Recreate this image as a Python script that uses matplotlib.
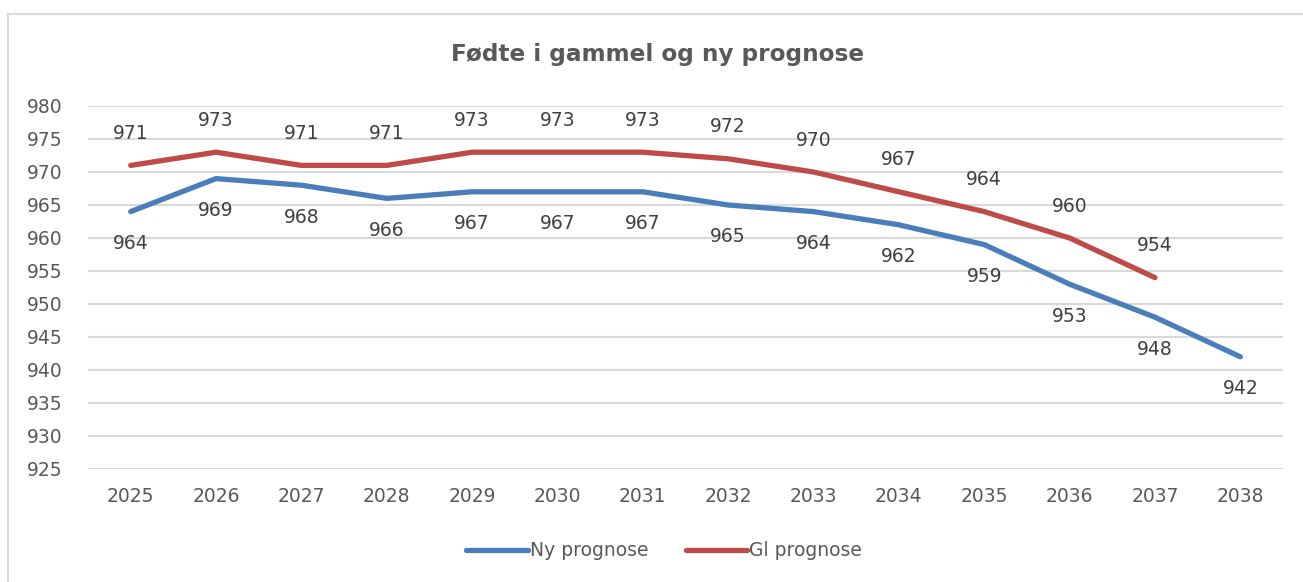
import matplotlib.pyplot as plt
from matplotlib.lines import Line2D

years = ['2025', '2026', '2027', '2028', '2029', '2030', '2031',
         '2032', '2033', '2034', '2035', '2036', '2037', '2038']
ny_prognose = [964, 969, 968, 966, 967, 967, 967, 965, 964, 962, 959, 953, 948, 942]
gl_prognose = [971, 973, 971, 971, 973, 973, 973, 972, 970, 967, 964, 960, 954]

blue = '#4A7EBB'
red = '#BE4B48'
grey = '#595959'

fig = plt.figure(figsize=(13.03, 5.82), dpi=100)
ax = fig.add_axes([88 / 1303, 1 - 469 / 582, (1283 - 88) / 1303, (469 - 106) / 582])

# chart-area frame (only top and left edges visible in the crop)
fig.add_artist(Line2D([8 / 1303, 1], [1 - 14 / 582, 1 - 14 / 582], color='#D9D9D9', lw=1.5))
fig.add_artist(Line2D([8 / 1303, 8 / 1303], [0, 1 - 14 / 582], color='#D9D9D9', lw=1.5))

x_ny = list(range(len(ny_prognose)))
x_gl = list(range(len(gl_prognose)))
ax.plot(x_ny, ny_prognose, color=blue, lw=3.8, solid_capstyle='round',
        solid_joinstyle='round', label='Ny prognose', zorder=3)
ax.plot(x_gl, gl_prognose, color=red, lw=3.8, solid_capstyle='round',
        solid_joinstyle='round', label='Gl prognose', zorder=3)

for x, v in zip(x_ny, ny_prognose):
    ax.annotate(str(v), (x, v), xytext=(0, -23), textcoords='offset points',
                ha='center', va='center', fontsize=13.5, color='#404040')
for x, v in zip(x_gl, gl_prognose):
    ax.annotate(str(v), (x, v), xytext=(0, 23), textcoords='offset points',
                ha='center', va='center', fontsize=13.5, color='#404040')

ax.set_xlim(-0.5, len(years) - 0.5)
ax.set_ylim(925, 980)
ax.set_yticks(range(925, 981, 5))
ax.set_xticks(x_ny)
ax.set_xticklabels(years)
ax.grid(axis='y', color='#D9D9D9', lw=1.5)
ax.set_axisbelow(True)
for s in ax.spines.values():
    s.set_visible(False)
ax.tick_params(length=0, labelsize=13.5, labelcolor=grey)
ax.tick_params(axis='y', pad=18)
ax.tick_params(axis='x', pad=13)

fig.text(658 / 1303, 1 - 55 / 582, 'Fødte i gammel og ny prognose', ha='center', va='center',
         fontsize=16.7, fontweight='bold', color=grey)

leg = fig.legend(loc='center', bbox_to_anchor=(664 / 1303, 1 - 551 / 582), ncol=2, frameon=False,
                 fontsize=13.5, handlelength=3.3, handletextpad=0.1, columnspacing=2.0)
for t in leg.get_texts():
    t.set_color(grey)

fig.savefig('out.png', dpi=100)
